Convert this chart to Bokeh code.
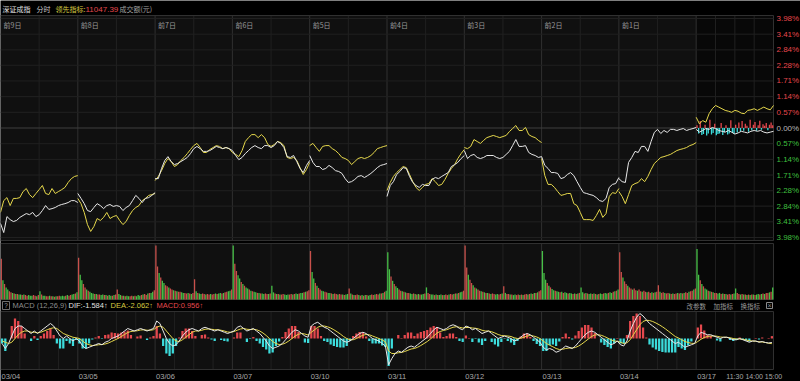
from bokeh.plotting import figure
from bokeh.models import Range1d
from bokeh.core.properties import value
from bokeh.embed import file_html
from bokeh.resources import INLINE

# ---------------- data ----------------
DATES = ["03/04", "03/05", "03/06", "03/07", "03/10", "03/11", "03/12", "03/13", "03/14", "03/17"]
DAY_TAGS = ["前9日", "前8日", "前7日", "前6日", "前5日", "前4日", "前3日", "前2日", "前1日"]
TIME_LABELS = ["11:30", "14:00", "15:00"]
TIME_MINUTES = [120, 180, 240]
PCT_TICKS = [3.98, 3.41, 2.84, 2.28, 1.71, 1.14, 0.57, 0.00,
             -0.57, -1.14, -1.71, -2.28, -2.84, -3.41, -3.98]
LEAD_VALUE = "11047.39"
DIF_LAST, DEA_LAST, MACD_LAST = "-1.584", "-2.062", "0.956"

# index (white) and leading indicator (yellow), % change, one value every 10 min
white = [
    [-3.47, -3.80, -3.22, -3.33, -3.40, -3.36, -3.25, -3.18, -3.11, -3.15, -3.07, -3.22, -3.15,
     -3.00, -2.82, -2.96, -2.93, -2.89, -2.82, -2.78, -2.75, -2.71, -2.64, -2.64, -2.71],
    [-2.38, -2.56, -2.75, -3.00, -3.04, -2.89, -2.75, -2.82, -2.93, -2.82, -2.78, -2.85, -2.82,
     -2.85, -3.00, -2.89, -2.82, -2.64, -2.45, -2.56, -2.71, -2.56, -2.53, -2.45, -2.35],
    [-1.84, -1.84, -1.47, -1.18, -1.04, -1.22, -1.33, -1.29, -1.22, -1.15, -1.07, -0.93, -0.75,
     -0.67, -0.75, -0.85, -0.85, -0.82, -0.75, -0.67, -0.71, -0.75, -0.71, -0.75, -0.82],
    [-0.82, -1.00, -1.15, -1.07, -0.93, -0.82, -0.71, -0.64, -0.71, -0.75, -0.64, -0.64, -0.71,
     -0.64, -0.49, -0.56, -0.71, -1.04, -1.07, -1.00, -1.22, -1.47, -1.62, -1.36, -1.18],
    [-1.00, -1.25, -1.40, -1.40, -1.51, -1.47, -1.36, -1.44, -1.55, -1.58, -1.65, -1.84, -1.98,
     -1.95, -1.87, -1.76, -1.73, -1.80, -1.73, -1.65, -1.55, -1.44, -1.36, -1.33, -1.29],
    [-2.49, -2.09, -1.95, -1.69, -1.58, -1.44, -1.47, -1.76, -1.98, -2.09, -2.16, -2.05, -2.09,
     -2.09, -1.87, -1.80, -1.84, -1.76, -1.69, -1.62, -1.40, -1.33, -1.25, -1.11, -1.00],
    [-0.82, -1.11, -1.00, -0.96, -1.07, -1.11, -1.07, -1.00, -1.00, -1.00, -1.07, -1.11, -1.07,
     -0.96, -0.85, -0.64, -0.42, -0.67, -0.67, -0.64, -0.89, -0.96, -1.00, -1.07, -1.04],
    [-1.04, -1.36, -1.47, -1.62, -1.62, -1.65, -1.84, -1.80, -1.69, -1.62, -1.73, -1.95, -2.16,
     -2.35, -2.38, -2.42, -2.45, -2.53, -2.64, -2.67, -2.56, -2.16, -2.05, -2.02, -1.80],
    [-1.84, -1.95, -1.98, -1.25, -1.07, -0.85, -0.89, -0.67, -0.67, -0.85, -0.49, -0.16, -0.05,
     -0.20, -0.09, -0.16, -0.05, -0.05, -0.09, -0.05, -0.02, -0.09, -0.05, -0.02, 0.02],
    [-0.05, -0.15, -0.09, -0.02, -0.05, 0.02, -0.02, -0.09, -0.12, -0.15, -0.09, -0.15, -0.22,
     -0.18, -0.12, -0.15, -0.18, -0.12, -0.09, -0.12, -0.09, -0.15, -0.18, -0.15, -0.12],
]
yellow = [
    [-3.07, -2.64, -2.53, -2.82, -2.56, -2.56, -2.53, -2.31, -2.20, -2.42, -2.53, -2.38, -2.24,
     -2.09, -2.38, -2.42, -2.20, -2.38, -2.31, -2.24, -2.16, -1.98, -1.84, -1.76, -1.73],
    [-2.56, -2.75, -3.07, -3.51, -3.76, -3.58, -3.29, -3.36, -3.25, -3.07, -3.29, -3.22, -3.18,
     -3.36, -3.51, -3.40, -3.18, -3.00, -2.89, -2.82, -2.64, -2.56, -2.45, -2.42, -2.38],
    [-1.91, -1.76, -1.55, -1.29, -1.11, -1.22, -1.40, -1.33, -1.18, -1.07, -0.93, -0.78, -0.64,
     -0.56, -0.71, -0.89, -0.89, -0.78, -0.71, -0.64, -0.67, -0.75, -0.71, -0.75, -0.89],
    [-0.89, -0.96, -1.04, -0.82, -0.49, -0.35, -0.24, -0.24, -0.35, -0.24, -0.35, -0.60, -0.67,
     -0.60, -0.49, -0.53, -0.64, -1.07, -1.11, -1.07, -1.18, -1.44, -1.69, -1.51, -1.25],
    [-0.64, -0.56, -0.71, -0.85, -0.67, -0.64, -0.64, -0.75, -0.82, -0.93, -1.07, -1.11, -1.18,
     -1.33, -1.22, -1.11, -1.07, -1.11, -1.07, -1.00, -0.89, -0.75, -0.71, -0.67, -0.64],
    [-2.27, -1.98, -1.76, -1.62, -1.51, -1.40, -1.44, -1.69, -1.95, -2.16, -2.27, -2.16, -2.05,
     -2.02, -1.84, -1.95, -2.09, -2.05, -1.87, -1.65, -1.47, -1.33, -1.11, -0.93, -0.78],
    [-0.71, -0.75, -0.67, -0.42, -0.49, -0.56, -0.45, -0.35, -0.31, -0.27, -0.31, -0.35, -0.31,
     -0.27, -0.13, -0.02, 0.09, -0.09, -0.09, 0.02, -0.24, -0.31, -0.35, -0.45, -0.53],
    [-1.11, -1.73, -2.05, -2.05, -2.16, -2.31, -2.45, -2.42, -2.38, -2.38, -2.75, -2.82, -3.07,
     -3.33, -3.33, -3.33, -3.36, -3.18, -2.96, -3.25, -3.11, -2.49, -2.35, -2.38, -2.20],
    [-2.31, -2.49, -2.75, -2.42, -2.09, -2.02, -1.98, -1.84, -1.95, -1.76, -1.51, -1.29, -1.18,
     -1.07, -1.04, -1.00, -0.96, -0.89, -0.82, -0.78, -0.75, -0.71, -0.64, -0.60, -0.53],
    [0.39, 0.15, 0.27, 0.21, 0.52, 0.70, 0.82, 0.76, 0.70, 0.64, 0.61, 0.57, 0.64,
     0.61, 0.54, 0.52, 0.64, 0.66, 0.70, 0.64, 0.70, 0.76, 0.70, 0.66, 0.82],
]
# today's up/down breadth bars (every 5 min)
breadth_today = [0.10, -0.20, 0.25, -0.25, -0.22, 0.12, -0.27, -0.20, 0.30, -0.24,
                 -0.18, 0.15, -0.26, -0.22, -0.20, 0.18, -0.25, -0.15, 0.10, -0.24,
                 -0.20, 0.28, -0.18, -0.22, 0.12, -0.16, 0.20, -0.12, 0.25, -0.10,
                 0.15, 0.08, -0.14, 0.30, -0.08, 0.12, 0.22, -0.10, 0.10, 0.26,
                 -0.06, 0.14, 0.08, 0.18, -0.08, 0.12, 0.20, 0.10]
# turnover, relative units, one bar per 5 min
volume = [
    [74, 35, 28, 22, 18, 15, 13, 12, 11, 10, 10, 9, 9, 8, 9, 8, 7, 8, 7, 7, 8, 7, 6, 8,
     15, 9, 7, 7, 6, 6, 7, 6, 6, 5, 6, 6, 7, 6, 7, 6, 7, 8, 7, 8, 9, 10, 11, 13],
    [76, 45, 35, 28, 22, 18, 16, 14, 12, 11, 10, 10, 9, 9, 8, 9, 8, 8, 7, 8, 7, 7, 8, 9,
     18, 10, 8, 7, 7, 6, 7, 6, 6, 7, 6, 7, 6, 8, 7, 8, 9, 10, 8, 11, 12, 12, 14, 17],
    [98, 60, 48, 40, 34, 30, 26, 24, 22, 20, 18, 17, 16, 15, 14, 14, 13, 12, 12, 11, 12, 11, 10, 12,
     37, 15, 12, 11, 10, 11, 10, 9, 10, 9, 10, 9, 10, 11, 10, 11, 12, 11, 12, 13, 14, 15, 16, 18],
    [98, 65, 52, 44, 38, 32, 28, 25, 22, 20, 18, 16, 15, 14, 13, 12, 12, 11, 11, 10, 11, 10, 10, 11,
     25, 13, 11, 10, 10, 9, 9, 10, 9, 8, 9, 9, 10, 9, 10, 11, 10, 11, 12, 12, 13, 14, 15, 17],
    [88, 50, 38, 30, 25, 21, 18, 16, 15, 14, 13, 12, 12, 11, 10, 11, 10, 9, 10, 9, 9, 8, 9, 10,
     20, 11, 9, 8, 8, 9, 8, 7, 8, 7, 8, 8, 7, 8, 9, 8, 9, 10, 9, 11, 11, 12, 14, 16],
    [86, 55, 42, 34, 28, 24, 21, 18, 16, 15, 14, 13, 12, 12, 11, 10, 11, 10, 9, 10, 9, 9, 10, 11,
     22, 12, 10, 9, 9, 8, 9, 8, 8, 9, 8, 8, 9, 8, 9, 10, 9, 10, 11, 11, 12, 13, 14, 16],
    [98, 58, 45, 36, 30, 26, 22, 20, 18, 16, 15, 14, 13, 12, 12, 11, 10, 11, 10, 9, 10, 9, 10, 11,
     24, 12, 10, 10, 9, 9, 8, 9, 8, 9, 8, 9, 8, 9, 10, 9, 10, 11, 10, 12, 12, 13, 15, 17],
    [88, 48, 36, 30, 25, 22, 19, 17, 16, 15, 14, 13, 14, 12, 13, 12, 11, 12, 11, 10, 11, 10, 11, 12,
     22, 13, 11, 12, 11, 10, 11, 10, 11, 10, 9, 10, 11, 10, 11, 12, 11, 12, 13, 12, 14, 15, 16, 18],
    [86, 50, 40, 33, 28, 25, 22, 20, 18, 20, 17, 16, 18, 15, 14, 16, 14, 13, 14, 12, 13, 12, 13, 14,
     26, 14, 12, 13, 12, 11, 12, 11, 10, 11, 10, 11, 12, 11, 12, 11, 12, 13, 12, 14, 15, 16, 18, 20],
    [92, 45, 35, 28, 24, 20, 18, 16, 15, 14, 13, 12, 12, 11, 12, 10, 11, 10, 10, 9, 10, 9, 10, 11,
     20, 12, 10, 9, 10, 9, 9, 8, 9, 8, 9, 9, 8, 9, 10, 9, 10, 11, 10, 12, 12, 13, 14, 22],
]
# r = up bar, g = down bar
vol_updown = [
    "rgrggrrg" "rgrggrgr" "rgggrrgr" "grggrrgr" "grgrrggg" "rgrrggrg",
    "rggrrgrg" "ggrgrrgg" "rgrggrgr" "rggrgrgg" "rrgrgggr" "grrgrggr",
    "rrgrggrr" "grrgrgrr" "ggrrgrgr" "rgrggrrg" "rrgrrgrg" "grgrrggr",
    "grrggrgr" "ggrgrggr" "grggrrgr" "ggrgrgrr" "gggrrgrg" "grggrgrr",
    "rggrgrrg" "grrggrgr" "rgrrgrgg" "rgrgrrgr" "grgrggrr" "grrgrgrg",
    "ggrgrggr" "rgrgrrgg" "rgrgrggr" "grrggrgr" "ggrgrrgr" "rgrgrggr",
    "rrgrrgrg" "rrgrgrgr" "grrggrrg" "rgrrgrgg" "rrgrgrrg" "rgrgrgrr",
    "gggrgrgg" "rggrgrgg" "rggrgrgr" "ggrgrggr" "grgrggrg" "grggrgrg",
    "rrgrrgrr" "grrgrrgr" "rgrrgrgr" "rgrrgrrg" "rgrrgrgr" "grrgrrgr",
    "ggrgrggr" "grgrrggr" "grgrrgrg" "grrgrgrg" "rgrgrggr" "grgrrgrg",
]
# MACD(12,26,9): DIF and DEA, one value every 10 min
dif = [
    [-2, -4, -2, 1, 4, 5, 5, 4, 3, 2, 3, 2, 3, 4, 5, 6, 5, 3, 1, 0, 1, 0, -1, 0],
    [-1, -3, -4, -3.5, -3, -2.5, -2, -2.5, -1.5, -1, 0, 0.5, 1, 2, 3, 4, 3.5, 3, 3.5, 4, 3.5, 3, 3.5, 4],
    [7, 6, 3, 0, -2, -3, -2.5, -1, 1, 2.5, 3.5, 4, 3.5, 3, 4, 4.5, 4, 3.5, 3, 3.5, 3, 2.5, 2, 2.5],
    [3, 4.5, 5, 4, 3, 3.5, 4, 3, 2, 0.5, -1, -3, -4, -3.5, -3, -2, -0.5, 1, 2.5, 3.5, 3, 2, 1, 0.5],
    [5, 6, 6.5, 5.5, 4.5, 4, 3, 2, 1, 0, -1, -1.5, -1, 0, 1, 2, 2.5, 2, 1, 0, -0.5, -1, -2, -3],
    [-10.5, -8, -6, -5, -5.5, -4.5, -3.5, -3, -3.5, -2.5, -1.5, -0.5, 0.5, 2, 3.5, 4.5, 4, 3.5,
     4, 5, 5.5, 5, 4, 3.5],
    [5, 4.5, 3.5, 4, 3, 2, 2.5, 3, 2, 1, 0, 0.5, 1, 0.5, 0, -1, -0.5, 0.5, 1.5, 2, 1.5, 0.5, -0.5, -1.5],
    [-3.5, -4.5, -4, -4.5, -5.5, -5, -4, -3, -3.5, -4, -3, -1.5, 0, 1.5, 2.5, 3, 2.5, 1.5, 0.5,
     -0.5, -1.5, -2.5, -2, -1],
    [-2.5, -3, -1, 3, 6, 8.5, 10, 9, 7.5, 6, 5, 4, 3, 2, 1, 0, -1, -2, -1.5, -2.5, -3.5, -3, -2.5, -2],
    [1, 2.5, 2, 1.5, 1.5, 1, 0.5, 0, 0.5, 0.5, 0, -0.5, -0.5, 0, -0.5, -1, -1.5, -1, -1, -1.5,
     -1.2, -1.6, -1.8, -1.584],
]
dea = [
    [-1, -1.5, -2, -1.5, 0, 1.5, 2.5, 3, 3, 2.5, 2.5, 2.3, 2.5, 3, 3.5, 4, 4.3, 4, 3, 2, 1.5, 1, 0.5, 0.3],
    [0, -1, -2, -2.5, -2.8, -2.7, -2.5, -2.4, -2.2, -1.8, -1.2, -0.6, 0, 0.8, 1.6, 2.4, 2.8, 3,
     3.1, 3.4, 3.5, 3.3, 3.3, 3.5],
    [4.5, 5, 4.5, 3, 1.5, 0, -1, -1.2, -0.5, 0.5, 1.5, 2.5, 3, 3, 3.3, 3.7, 3.8, 3.7, 3.5, 3.5,
     3.3, 3, 2.6, 2.5],
    [2.8, 3.3, 3.8, 4, 3.7, 3.6, 3.7, 3.5, 3, 2.2, 1.2, 0, -1.2, -2, -2.4, -2.3, -1.8, -1, 0, 1,
     1.7, 2, 1.8, 1.4],
    [2.5, 3.5, 4.5, 5, 5, 4.7, 4.2, 3.5, 2.7, 1.8, 0.8, 0, -0.5, -0.5, 0, 0.7, 1.3, 1.6, 1.5, 1,
     0.5, 0, -0.6, -1.3],
    [-5, -6, -6, -5.7, -5.6, -5.2, -4.7, -4.2, -4, -3.5, -2.8, -2, -1.2, -0.2, 1, 2.2, 2.8, 3.2,
     3.5, 4, 4.5, 4.7, 4.5, 4.2],
    [4.4, 4.4, 4.2, 4.1, 3.8, 3.3, 3, 3, 2.7, 2.2, 1.6, 1.2, 1.1, 1, 0.8, 0.3, 0, 0.1, 0.5, 1,
     1.2, 1, 0.6, 0],
    [-1, -2, -2.7, -3.3, -4, -4.4, -4.3, -4, -3.8, -3.8, -3.6, -3, -2.2, -1.2, -0.2, 0.8, 1.4,
     1.5, 1.3, 0.8, 0.2, -0.5, -1, -1.1],
    [-1.5, -2, -1.7, -0.5, 1.5, 3.5, 5.5, 6.8, 7.3, 7.2, 6.8, 6.2, 5.5, 4.7, 3.8, 2.8, 1.8, 0.8,
     0.2, -0.5, -1.2, -1.6, -1.9, -2],
    [-1.2, -0.3, 0.4, 0.8, 1, 1, 0.9, 0.6, 0.5, 0.5, 0.3, 0, -0.2, -0.2, -0.3, -0.6, -0.9, -1,
     -1.1, -1.3, -1.4, -1.6, -1.9, -2.062],
]

# ---------------- geometry / style ----------------
W, H = 800, 381
PLOT_RIGHT_PX = 773.0
DAY_LEN = 240
NDAY = len(DATES)
X_END = DAY_LEN * NDAY
XMAX = X_END * W / PLOT_RIGHT_PX
PX = XMAX / W          # data units per pixel
STEP = 10              # price / macd sampling (min)
VSTEP = 5              # volume sampling (min)
TODAY0 = (NDAY - 1) * DAY_LEN

FONT = value("Noto Sans CJK SC")
NUMFONT = value("Liberation Sans")
RED, GREEN, CYAN = "#e5484d", "#3fbf3f", "#3cdcdc"
VRED, VGREEN = "#c9504b", "#46c046"
WHITE, YELLOW = "#e8e8e8", "#e6d84c"
GRID, GRID2, GRID0 = "#202020", "#303030", "#3e3e3e"


def mk_range(v_a, px_a, v_b, px_b):
    k = (v_b - v_a) / (px_b - px_a)
    return Range1d(start=v_a + k * (H - px_a), end=v_a + k * (0 - px_a))


def at(r, px):
    return r.end + (r.start - r.end) * px / H


r_main = mk_range(3.98, 18, -3.98, 237)
r_vol = mk_range(0, 299, 100, 244)
r_macd = mk_range(0, 338, 10, 313)

p = figure(width=W, height=H, x_range=Range1d(0, XMAX), y_range=r_main,
           output_backend="svg", toolbar_location=None, min_border=0,
           x_axis_location=None, y_axis_location=None,
           background_fill_color="#000000", border_fill_color="#000000",
           outline_line_color=None)
p.grid.visible = False
p.extra_y_ranges = {"vol": r_vol, "macd": r_macd}

PANELS = [("default", r_main, 15, 240), ("vol", r_vol, 243, 299), ("macd", r_macd, 311, 369)]

# panel backgrounds
for name, rr, t, b in PANELS:
    p.quad(left=0, right=TODAY0, top=at(rr, t), bottom=at(rr, b),
           fill_color="#101010", line_color=None, y_range_name=name)
    p.quad(left=TODAY0, right=X_END, top=at(rr, t), bottom=at(rr, b),
           fill_color="#080808", line_color=None, y_range_name=name)

# vertical grid
for name, rr, t, b in PANELS:
    top_v, bot_v = at(rr, t), at(rr, b)
    minor = []
    for d in range(NDAY):
        if d == NDAY - 1 or name == "macd":
            minor += [d * DAY_LEN + m for m in (60, 120, 180)]
        else:
            minor += [d * DAY_LEN + 120]
    p.segment(x0=minor, x1=minor, y0=[top_v] * len(minor), y1=[bot_v] * len(minor),
              line_color=GRID, line_width=1, y_range_name=name)
    major = [d * DAY_LEN for d in range(1, NDAY)]
    p.segment(x0=major, x1=major, y0=[top_v] * len(major), y1=[bot_v] * len(major),
              line_color=GRID2, line_width=1, y_range_name=name)
    p.segment(x0=[0, 0, X_END], x1=[X_END, X_END, X_END], y0=[top_v, bot_v, top_v],
              y1=[top_v, bot_v, bot_v], line_color=GRID2, line_width=1, y_range_name=name)

# horizontal grid of main panel
p.segment(x0=[0] * len(PCT_TICKS), x1=[X_END] * len(PCT_TICKS), y0=PCT_TICKS, y1=PCT_TICKS,
          line_color=[GRID0 if t == 0 else GRID for t in PCT_TICKS], line_width=1)

# today's breadth bars
bx = [TODAY0 + VSTEP * k + VSTEP / 2 for k in range(len(breadth_today))]
p.vbar(x=bx, width=1.3 * PX, top=[max(v, 0) for v in breadth_today],
       bottom=[min(v, 0) for v in breadth_today],
       fill_color=[RED if v > 0 else CYAN for v in breadth_today],
       line_color=None)

# price lines
xs = [[d * DAY_LEN + STEP * i for i in range(len(white[d]))] for d in range(NDAY)]
p.multi_line(xs=xs, ys=yellow, line_color=YELLOW, line_width=1)
p.multi_line(xs=xs, ys=white, line_color=WHITE, line_width=1)

# volume bars
vx, vt, vc = [], [], []
for d in range(NDAY):
    for k, v in enumerate(volume[d]):
        vx.append(d * DAY_LEN + VSTEP * k + VSTEP / 2)
        vt.append(v)
        vc.append(VRED if vol_updown[d][k] == "r" else VGREEN)
p.vbar(x=vx, width=VSTEP * 0.8, top=vt, bottom=0, fill_color=vc, line_color=None,
       y_range_name="vol")

# MACD
mx, mdif, mdea = [], [], []
for d in range(NDAY):
    for k in range(len(dif[d])):
        mx.append(d * DAY_LEN + STEP * k + STEP / 2)
        mdif.append(dif[d][k])
        mdea.append(dea[d][k])
hist = [2 * (a - b) for a, b in zip(mdif, mdea)]
p.vbar(x=mx, width=STEP * 0.7, top=[max(h, 0) for h in hist], bottom=[min(h, 0) for h in hist],
       fill_color=[RED if h > 0 else CYAN for h in hist], line_color=None, y_range_name="macd")
p.line(mx, mdea, line_color=YELLOW, line_width=1, y_range_name="macd")
p.line(mx, mdif, line_color=WHITE, line_width=1, y_range_name="macd")


# ---------------- texts ----------------
def txt(xpx, ypx, s, color, size="8px", align="left", font=FONT):
    p.text(x=[xpx * PX], y=[at(r_main, ypx)], text=[s], text_color=color, text_font=font,
           text_font_size=size, text_align=align, text_baseline="middle")


# header
txt(2, 8.5, "深证成指", "#e0e0e0", size="7px")
txt(36, 8.5, "分时", "#c8c8c8", size="7px")
txt(55, 8.5, "领先指标:", "#d8cc40", size="7px")
txt(85, 8.5, LEAD_VALUE, "#e5484d", size="8px", font=NUMFONT)
txt(119, 8.5, "成交额(元)", "#a0a0a0", size="7px")

# day tags
p.text(x=[d * DAY_LEN + 3 * PX for d in range(len(DAY_TAGS))], y=[at(r_main, 24)] * len(DAY_TAGS),
       text=DAY_TAGS, text_color="#9a9a9a", text_font=FONT, text_font_size="7px",
       text_align="left", text_baseline="middle")

# right % labels
p.text(x=[X_END + 3 * PX] * len(PCT_TICKS), y=PCT_TICKS,
       text=["%.2f%%" % abs(t) for t in PCT_TICKS],
       text_color=[RED if t > 0 else ("#b8b8b8" if t == 0 else GREEN) for t in PCT_TICKS],
       text_font=NUMFONT, text_font_size="8px", text_align="left", text_baseline="middle")

# date labels
p.text(x=[d * DAY_LEN + 1 * PX for d in range(NDAY)], y=[at(r_main, 375.5)] * NDAY,
       text=DATES, text_color="#a8a8a8", text_font=NUMFONT, text_font_size="7.5px",
       text_align="left", text_baseline="middle")
p.text(x=[TODAY0 + m for m in TIME_MINUTES], y=[at(r_main, 375.5)] * len(TIME_MINUTES),
       text=TIME_LABELS, text_color="#a8a8a8", text_font=NUMFONT, text_font_size="7px",
       text_align="center", text_baseline="middle")

# MACD header
p.quad(left=2 * PX, right=9 * PX, top=at(r_main, 301), bottom=at(r_main, 309),
       fill_color=None, line_color="#707070", line_width=1)
txt(5.5, 305, "?", "#a0a0a0", size="6.5px", align="center", font=NUMFONT)
txt(12, 305, "MACD (12,26,9)", "#8c8c8c", size="7.5px", font=NUMFONT)
txt(68, 305, "DIF:" + DIF_LAST + "↑", "#e0e0e0", size="7.5px", font=NUMFONT)
txt(110, 305, "DEA:" + DEA_LAST + "↑", "#d8cc40", size="7.5px", font=NUMFONT)
txt(156, 305, "MACD:" + MACD_LAST + "↑", "#e5484d", size="7.5px", font=NUMFONT)
txt(686, 305, "改参数", "#9a9a9a", size="6.5px")
txt(713, 305, "加指标", "#9a9a9a", size="6.5px")
txt(740, 305, "换指标", "#9a9a9a", size="6.5px")
p.quad(left=766 * PX, right=772 * PX, top=at(r_main, 302), bottom=at(r_main, 308),
       fill_color=None, line_color="#8a8a8a", line_width=1)
txt(769, 305, "×", "#8a8a8a", size="7px", align="center", font=NUMFONT)

open("out.html", "w").write(file_html(p, INLINE))
